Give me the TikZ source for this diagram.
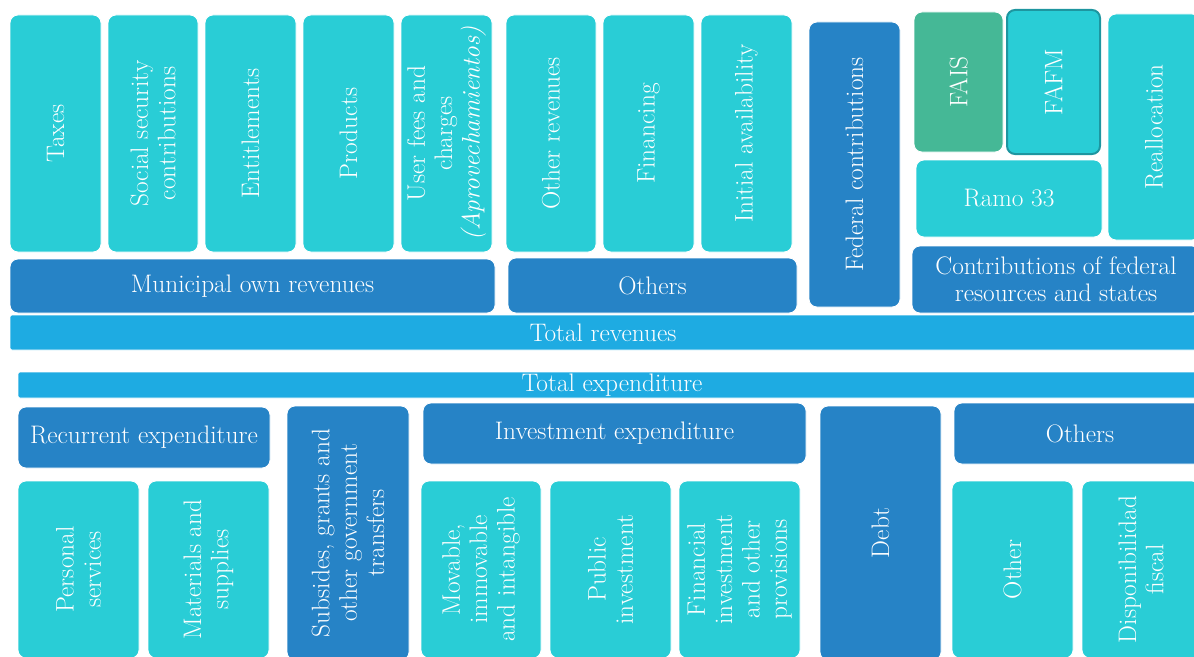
\documentclass[tikz,border=0pt]{standalone}
\usepackage{tikz}
\usepackage{xcolor}
\usetikzlibrary{positioning}

\definecolor{boxcyan}{RGB}{41,205,214}
\definecolor{boxblue}{RGB}{38,131,198}
\definecolor{barblue}{RGB}{30,171,226}
\definecolor{boxgreen}{RGB}{69,184,150}
\definecolor{fafmedge}{RGB}{30,150,160}

\tikzset{
  box/.style={rectangle, rounded corners=6pt, draw=white, line width=0.6pt, inner sep=0pt,
    text=white, align=center, font=\fontsize{19}{20.5}\selectfont},
  cyanbox/.style={box, fill=boxcyan},
  bluebox/.style={box, fill=boxblue},
  greenbox/.style={box, fill=boxgreen},
  barbox/.style={box, fill=barblue, rounded corners=1.5pt},
  hsize/.style 2 args={minimum width=#1*0.75pt, minimum height=#2*0.75pt},
  vsize/.style 2 args={rotate=90, minimum width=#2*0.75pt, minimum height=#1*0.75pt}
}

\begin{document}
\begin{tikzpicture}[x=0.75pt,y=0.75pt,yscale=-1,xscale=1]
    %set diagram left start at 0, and has size of 1194 x 656
    \useasboundingbox (0,0) rectangle (1194,656);

    %Shape: Revenue items
    \node[cyanbox, vsize={91}{237}] (taxes) at (55.5,133.5) {Taxes};
    \node[cyanbox, vsize={90}{237}] (socsec) at (153,133.5) {Social security\\contributions};
    \node[cyanbox, vsize={91}{237}] (entitle) at (250.5,133.5) {Entitlements};
    \node[cyanbox, vsize={91}{237}] (products) at (348.5,133.5) {Products};
    \node[cyanbox, vsize={91}{237}] (userfees) at (446.5,133.5) {User fees and\\charges\\\textit{(Aprovechamientos)}};
    \node[cyanbox, vsize={90}{237}] (otherrev) at (551,133.5) {Other revenues};
    \node[cyanbox, vsize={91}{237}] (financing) at (648.5,133.5) {Financing};
    \node[cyanbox, vsize={91}{237}] (initial) at (746.5,133.5) {Initial availability};

    %Shape: Federal side
    \node[bluebox, vsize={91}{285}] (federal) at (854.5,164.5) {Federal contributions};
    \node[greenbox, vsize={89}{140}] (fais) at (958.5,82) {FAIS};
    \node[cyanbox, draw=fafmedge, line width=1.5pt, vsize={93}{144}] (fafm) at (1053.5,82) {FAFM};
    \node[cyanbox, hsize={186}{77}] (ramo) at (1009,198.5) {Ramo 33};
    \node[cyanbox, vsize={92}{226}] (realloc) at (1154,127) {Reallocation};
    \node[bluebox, hsize={288}{67}] (contrib) at (1056,279.5) {Contributions of federal\\resources and states};

    %Shape: Revenue groups
    \node[bluebox, hsize={485}{54}] (municipal) at (252.5,286) {Municipal own revenues};
    \node[bluebox, hsize={289}{55}] (othersrev) at (652.5,285.5) {Others};
    \node[barbox, hsize={1186}{35}] (totrev) at (603,332.5) {Total revenues};

    %Shape: Expenditure groups
    \node[barbox, hsize={1188}{26}] (totexp) at (612,385) {Total expenditure};
    \node[bluebox, hsize={252}{61}] (recurrent) at (144,437.5) {Recurrent expenditure};
    \node[bluebox, vsize={122}{254}] (subsides) at (348,533) {Subsides, grants and\\other government\\transfers};
    \node[bluebox, hsize={383}{61}] (investment) at (614.5,433.5) {Investment expenditure};
    \node[bluebox, vsize={121}{254}] (debt) at (880.5,533) {Debt};
    \node[bluebox, hsize={252}{61}] (othersexp) at (1080,433.5) {Others};

    %Shape: Expenditure items
    \node[cyanbox, vsize={121}{177}] (personal) at (78.5,569.5) {Personal\\services};
    \node[cyanbox, vsize={121}{177}] (materials) at (208.5,569.5) {Materials and\\supplies};
    \node[cyanbox, vsize={120}{177}] (movable) at (481,569.5) {Movable,\\immovable\\and intangible};
    \node[cyanbox, vsize={121}{177}] (public) at (610.5,569.5) {Public\\investment};
    \node[cyanbox, vsize={121}{177}] (financial) at (739.5,569.5) {Financial\\investment\\and other\\provisions};
    \node[cyanbox, vsize={121}{177}] (other) at (1012.5,569.5) {Other};
    \node[cyanbox, vsize={118}{177}] (dispon) at (1141,569.5) {Disponibilidad\\fiscal};

\end{tikzpicture}
\end{document}
